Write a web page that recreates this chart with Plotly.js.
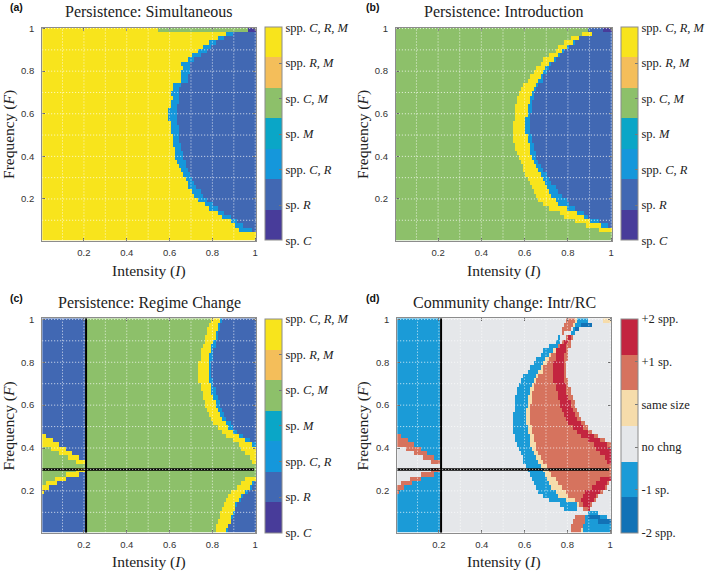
<!DOCTYPE html>
<html>
<head>
<meta charset="utf-8">
<script src="https://cdn.plot.ly/plotly-3.0.1.min.js"></script>
<style>html,body{margin:0;padding:0;background:#fff;}#chart{width:709px;height:572px;}</style>
</head>
<body>
<div id="chart"></div>
<script>
// ---------------- DATA ----------------
// Frequency F rows (cell centres, bottom -> top)
const freqRows = [0.015,0.035,0.055,0.075,0.095,0.115,0.135,0.155,0.175,0.195,
  0.215,0.235,0.255,0.275,0.295,0.315,0.335,0.355,0.375,0.395,
  0.415,0.435,0.455,0.475,0.495,0.515,0.535,0.555,0.575,0.595,
  0.615,0.635,0.655,0.675,0.695,0.715,0.735,0.755,0.775,0.795,
  0.815,0.835,0.855,0.875,0.895,0.915,0.935,0.955,0.975,0.995];

// Category codes: 1 sp.C, 2 sp.R, 3 spp.C,R, 4 sp.M, 5 sp.C,M, 6 spp.R,M, 7 spp.C,R,M
const persistLabels = ['sp. <i>C</i>','sp. <i>R</i>','spp. <i>C, R</i>','sp. <i>M</i>',
  'sp. <i>C, M</i>','spp. <i>R, M</i>','spp. <i>C, R, M</i>'];
const speciesCount = [0,1,1,2,1,2,2,3];
const changeLabels = ['-2 spp.','-1 sp.','no chng','same size','+1 sp.','+2 spp.'];

// (a) Simultaneous: yellow (C,R,M) up to aYellowEnd, cyan (C,R) up to aCyanEnd, then blue (R)
const aYellowEnd = [1.01,1.01,0.93,0.91,0.885,0.85,0.825,0.79,0.77,0.74,
  0.715,0.71,0.69,0.685,0.675,0.665,0.66,0.65,0.64,0.63,
  0.63,0.625,0.62,0.62,0.615,0.61,0.605,0.605,0.60,0.60,
  0.60,0.605,0.61,0.615,0.61,0.615,0.62,0.655,0.655,0.66,
  0.665,0.66,0.685,0.71,0.74,0.76,0.785,0.83,0.87];
const aCyanEnd = [1.01,1.01,0.985,0.95,0.92,0.885,0.86,0.83,0.81,0.775,
  0.755,0.745,0.73,0.72,0.71,0.70,0.69,0.68,0.675,0.67,
  0.665,0.66,0.655,0.65,0.65,0.645,0.645,0.64,0.635,0.635,
  0.64,0.64,0.645,0.645,0.65,0.65,0.66,0.685,0.69,0.695,
  0.70,0.695,0.72,0.745,0.775,0.795,0.82,0.86,0.90];
const aTopRowEnds = [0.55, 0.965];
const aTopRowCats = [7, 5, 1];

// (b) Introduction: green (C,M) | yellow | cyan | blue
const bGreenEnd = [1.01,1.01,0.95,0.885,0.84,0.79,0.77,0.72,0.69,0.665,
  0.655,0.645,0.635,0.63,0.62,0.61,0.60,0.595,0.585,0.575,
  0.57,0.56,0.555,0.55,0.545,0.545,0.545,0.55,0.555,0.555,
  0.56,0.56,0.565,0.57,0.575,0.585,0.60,0.615,0.625,0.645,
  0.655,0.675,0.685,0.72,0.745,0.76,0.79,0.82,0.87];
const bYellowEnd = [1.01,1.01,1.01,0.955,0.905,0.875,0.85,0.80,0.76,0.745,
  0.73,0.715,0.705,0.695,0.685,0.675,0.665,0.655,0.645,0.635,
  0.63,0.625,0.625,0.62,0.615,0.61,0.61,0.61,0.61,0.615,
  0.615,0.62,0.625,0.63,0.635,0.645,0.655,0.665,0.675,0.69,
  0.70,0.72,0.735,0.76,0.78,0.80,0.83,0.855,0.92];
const bCyanEnd = [1.01,1.01,1.01,0.99,0.945,0.90,0.88,0.84,0.81,0.80,
  0.78,0.76,0.75,0.73,0.72,0.71,0.69,0.68,0.67,0.66,
  0.655,0.65,0.645,0.64,0.635,0.63,0.63,0.63,0.63,0.63,
  0.635,0.64,0.64,0.645,0.65,0.66,0.67,0.685,0.69,0.71,
  0.715,0.73,0.745,0.77,0.79,0.81,0.84,0.855,0.92];
const bTopRowEnds = [0.90, 0.97];
const bTopRowCats = [5, 2, 1];

// (c) Regime change: right of regimeI -> green | yellow | cyan | blue
const regimeI = 0.21;
const regimeF = 0.30;
const cGreenEnd = [0.815,0.82,0.825,0.835,0.84,0.85,0.855,0.87,0.875,0.89,
  0.915,0.935,0.96,1.01,1.01,1.01,0.99,0.975,0.955,0.94,
  0.925,0.895,0.87,0.845,0.825,0.81,0.795,0.785,0.775,0.77,
  0.765,0.76,0.755,0.75,0.745,0.74,0.74,0.735,0.74,0.74,
  0.745,0.745,0.75,0.76,0.765,0.77,0.775,0.78,0.785,0.795];
const cYellowEnd = [0.87,0.875,0.885,0.89,0.90,0.905,0.91,0.93,0.935,0.955,
  0.975,0.99,1.01,1.01,1.01,1.01,1.01,1.01,1.01,1.01,
  0.985,0.955,0.93,0.90,0.88,0.865,0.85,0.84,0.83,0.82,
  0.815,0.81,0.80,0.80,0.795,0.79,0.785,0.785,0.785,0.79,
  0.79,0.79,0.795,0.80,0.81,0.815,0.82,0.825,0.83,0.84];
const cCyanEnd = [0.875,0.88,0.89,0.895,0.905,0.91,0.92,0.935,0.945,0.965,
  0.985,1.0,1.01,1.01,1.01,1.01,1.01,1.01,1.01,1.01,
  1.01,0.98,0.95,0.92,0.90,0.885,0.865,0.855,0.845,0.84,
  0.835,0.825,0.82,0.815,0.81,0.805,0.80,0.80,0.80,0.80,
  0.805,0.81,0.81,0.815,0.82,0.825,0.83,0.835,0.84,0.845];
// left of regimeI -> green | yellow | blue
const cLeftGreenEnd = [0,0,0,0,0,0,0,0,0,0,
  0,0.03,0.07,0.12,0.17,0.21,0.17,0.13,0.09,0.05,
  0.01,0,0,0,0,0,0,0,0,0,
  0,0,0,0,0,0,0,0,0,0,
  0,0,0,0,0,0,0,0,0,0];
const cLeftYellowEnd = [0,0,0,0,0,0,0,0,0,0.015,
  0.04,0.08,0.12,0.18,0.21,0.21,0.21,0.18,0.15,0.12,
  0.09,0.06,0.03,0,0,0,0,0,0,0,
  0,0,0,0,0,0,0,0,0,0,
  0,0,0,0,0,0,0,0,0,0];

// ---------------- colours ----------------
const persistColors = ['#483c9a','#4168b3','#1597db','#0aa6c7','#8dc06a','#f4be5a','#f8e41c'];
const changeColors  = ['#1272b6','#1b9bd7','#e5e7ea','#f6dcab','#d6735e','#c3243f'];

// ---------------- build grids ----------------
const intensityCols = [];
for (let i = 1; i <= 100; i++) intensityCols.push(i / 100);

function band(v, ends, cats) {
  for (let k = 0; k < ends.length; k++) if (v < ends[k]) return cats[k];
  return cats[cats.length - 1];
}
const zA = [], zB = [], zC = [], zD = [];
freqRows.forEach((f, j) => {
  const ra = [], rb = [], rc = [], rd = [];
  intensityCols.forEach(I => {
    const a = j < aYellowEnd.length ? band(I, [aYellowEnd[j], aCyanEnd[j]], [7, 3, 2]) : band(I, aTopRowEnds, aTopRowCats);
    const b = j < bGreenEnd.length ? band(I, [bGreenEnd[j], bYellowEnd[j], bCyanEnd[j]], [5, 7, 3, 2]) : band(I, bTopRowEnds, bTopRowCats);
    const c = I < regimeI ? band(I, [cLeftGreenEnd[j], cLeftYellowEnd[j]], [5, 7, 2])
                          : band(I, [cGreenEnd[j], cYellowEnd[j], cCyanEnd[j]], [5, 7, 3, 2]);
    let d;
    if (b === c) d = 3;
    else {
      const diff = speciesCount[c] - speciesCount[b];
      d = diff === 0 ? 4 : (diff < 0 ? 3 + diff : 4 + diff);
    }
    ra.push(a); rb.push(b); rc.push(c); rd.push(d);
  });
  zA.push(ra); zB.push(rb); zC.push(rc); zD.push(rd);
});

function discrete(colors) {
  const n = colors.length, s = [];
  colors.forEach((c, k) => { s.push([k / n, c]); s.push([(k + 1) / n, c]); });
  return s;
}

// ---------------- layout geometry (pixels) ----------------
const W = 709, H = 572;
const PX = { a: [42.3, 257], b: [397, 614], c: [42.3, 257], d: [398.3, 613] };
const PY = { top: [27.5, 240.5], bot: [318.3, 532.7] };
const fx = p => p / W, fy = p => 1 - p / H;

function cb(xPx, yr, vals, texts) {
  return {
    x: fx(xPx), xanchor: 'left', y: fy(yr[1]), yanchor: 'bottom',
    len: (yr[1] - yr[0]) / H, lenmode: 'fraction', thickness: 17, thicknessmode: 'pixels',
    xpad: 0, ypad: 0, outlinewidth: 1, outlinecolor: '#8c8c8c',
    tickmode: 'array', tickvals: vals, ticktext: texts, ticks: 'inside', ticklen: 3, tickcolor: '#777',
    tickfont: { family: 'Liberation Serif, serif', size: 12.5, color: '#222' }
  };
}
const v7 = [1,2,3,4,5,6,7], v6 = [1,2,3,4,5,6];

function hm(z, xa, ya, zmax, colors, colorbar) {
  return { type: 'heatmap', x: intensityCols, y: freqRows, z: z, xaxis: xa, yaxis: ya,
    zmin: 1, zmax: zmax, colorscale: discrete(colors), zsmooth: false, hoverinfo: 'skip', colorbar: colorbar };
}
const traces = [
  hm(zA, 'x', 'y', 7, persistColors, cb(266, PY.top, v7, persistLabels)),
  hm(zB, 'x2', 'y2', 7, persistColors, cb(623, PY.top, v7, persistLabels)),
  hm(zC, 'x3', 'y3', 7, persistColors, cb(266, PY.bot, v7, persistLabels)),
  hm(zD, 'x4', 'y4', 6, changeColors, cb(623, PY.bot, v6, changeLabels))
];
// regime-change reference lines
[['x3','y3'],['x4','y4']].forEach(([xa, ya]) => {
  traces.push({ type: 'scatter', mode: 'lines', x: [regimeI, regimeI], y: [0.005, 1.005], xaxis: xa, yaxis: ya,
    line: { color: '#000', width: 2 }, hoverinfo: 'skip', showlegend: false });
  traces.push({ type: 'scatter', mode: 'lines', x: [0.005, 0.995], y: [regimeF, regimeF], xaxis: xa, yaxis: ya,
    line: { color: '#000', width: 2.5 }, hoverinfo: 'skip', showlegend: false });
});

const tickFont = { family: 'Liberation Sans, Arial, sans-serif', size: 9.5, color: '#333' };
function axis(domainPx, anchor, isX) {
  const ax = {
    domain: isX ? [fx(domainPx[0]), fx(domainPx[1])] : [fy(domainPx[1]), fy(domainPx[0])],
    anchor: anchor, range: [0.005, 1.005], tickmode: 'array',
    tickvals: [0.2, 0.4, 0.6, 0.8, 1], ticktext: ['0.2', '0.4', '0.6', '0.8', '1'],
    ticks: 'inside', ticklen: 3, tickwidth: 1, tickcolor: '#666',
    showline: true, linecolor: '#8c8c8c', linewidth: 1, mirror: 'ticks',
    showgrid: false, zeroline: false, layer: 'above traces', tickfont: tickFont, fixedrange: true,
    ticklabelstandoff: isX ? 3 : 5
  };
  return ax;
}

// dotted grid drawn above the image (every 0.1)
const gridVals = [0.1,0.2,0.3,0.4,0.5,0.6,0.7,0.8,0.9,1.0];
const shapes = [];
[['x','y'],['x2','y2'],['x3','y3'],['x4','y4']].forEach(([xa, ya]) => {
  gridVals.forEach(v => {
    shapes.push({ type: 'line', xref: xa, yref: ya, x0: v, x1: v, y0: 0.005, y1: 1.005, layer: 'above',
      line: { color: 'rgba(255,255,255,0.8)', width: 1, dash: '1px,2px' } });
    shapes.push({ type: 'line', xref: xa, yref: ya, y0: v, y1: v, x0: 0.005, x1: 1.005, layer: 'above',
      line: { color: 'rgba(255,255,255,0.8)', width: 1, dash: '1px,2px' } });
  });
});

const serif = 'Liberation Serif, Times New Roman, serif';
function ann(text, xp, yp, size, opts) {
  return Object.assign({ text: text, x: fx(xp), y: fy(yp), xref: 'paper', yref: 'paper',
    xanchor: 'center', yanchor: 'middle', showarrow: false,
    font: { family: serif, size: size, color: '#222' } }, opts || {});
}
const cxA = (PX.a[0] + PX.a[1]) / 2, cxB = (PX.b[0] + PX.b[1]) / 2;
const cyT = (PY.top[0] + PY.top[1]) / 2, cyB = (PY.bot[0] + PY.bot[1]) / 2;
const panelFont = { family: 'Liberation Sans, Arial, sans-serif', size: 10.5, color: '#111' };
const annotations = [
  ann('Persistence: Simultaneous', cxA, 12, 16),
  ann('Persistence: Introduction', cxB, 12, 16),
  ann('Persistence: Regime Change', cxA, 303, 16),
  ann('Community change: Intr/RC', cxB, 303, 16),
  ann('Intensity (<i>I</i>)', cxA, 271.5, 15.5),
  ann('Intensity (<i>I</i>)', cxB, 271.5, 15.5),
  ann('Intensity (<i>I</i>)', cxA, 562, 15.5),
  ann('Intensity (<i>I</i>)', cxB, 562, 15.5),
  ann('Frequency (<i>F</i>)', 9, cyT, 15.5, { textangle: -90 }),
  ann('Frequency (<i>F</i>)', 364, cyT, 15.5, { textangle: -90 }),
  ann('Frequency (<i>F</i>)', 9, cyB, 15.5, { textangle: -90 }),
  ann('Frequency (<i>F</i>)', 364, cyB, 15.5, { textangle: -90 }),
  ann('<b>(a)</b>', 17, 7, 10.5, { font: panelFont }),
  ann('<b>(b)</b>', 374, 7, 10.5, { font: panelFont }),
  ann('<b>(c)</b>', 17, 298, 10.5, { font: panelFont }),
  ann('<b>(d)</b>', 374, 298, 10.5, { font: panelFont })
];

const layout = {
  width: W, height: H, margin: { l: 0, r: 0, t: 0, b: 0 },
  paper_bgcolor: '#fff', plot_bgcolor: '#fff', showlegend: false,
  xaxis: axis(PX.a, 'y', true), yaxis: axis(PY.top, 'x', false),
  xaxis2: axis(PX.b, 'y2', true), yaxis2: axis(PY.top, 'x2', false),
  xaxis3: axis(PX.c, 'y3', true), yaxis3: axis(PY.bot, 'x3', false),
  xaxis4: axis(PX.d, 'y4', true), yaxis4: axis(PY.bot, 'x4', false),
  shapes: shapes, annotations: annotations
};
Plotly.newPlot('chart', traces, layout, { displayModeBar: false, staticPlot: true });
</script>
</body>
</html>
